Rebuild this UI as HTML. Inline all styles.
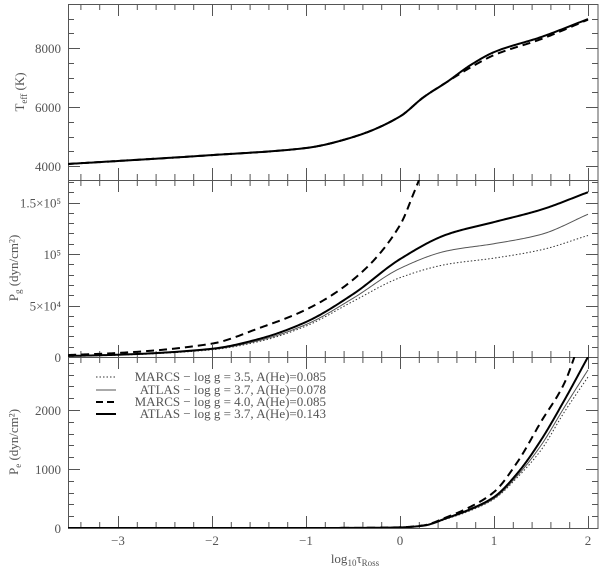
<!DOCTYPE html>
<html><head><meta charset="utf-8"><style>
html,body{margin:0;padding:0;background:#fff;}
svg{display:block;font-family:"Liberation Serif",serif;}
</style></head><body>
<svg id="chart" width="600" height="569" viewBox="0 0 600 569">
<defs><clipPath id="c1"><rect x="68" y="4" width="530" height="176"/></clipPath>
<clipPath id="c2"><rect x="68" y="180" width="530" height="177"/></clipPath>
<clipPath id="c3"><rect x="68" y="357" width="530" height="171"/></clipPath></defs>
<g id="axes"></g>
<g id="marks"></g>
<g font-size="13" fill="#555">
 <line x1="96" y1="377" x2="116" y2="377" stroke="#333" stroke-width="1" stroke-dasharray="1.5,2"/>
 <text x="326" y="381" text-anchor="end">MARCS − log g = 3.5, A(He)=0.085</text>
 <line x1="96" y1="390" x2="116" y2="390" stroke="#555" stroke-width="1"/>
 <text x="326" y="394" text-anchor="end">ATLAS − log g = 3.7, A(He)=0.078</text>
 <line x1="96" y1="402" x2="116" y2="402" stroke="#000" stroke-width="2" stroke-dasharray="7,4"/>
 <text x="326" y="406" text-anchor="end">MARCS − log g = 4.0, A(He)=0.085</text>
 <line x1="96" y1="414" x2="116" y2="414" stroke="#000" stroke-width="2"/>
 <text x="326" y="418" text-anchor="end">ATLAS − log g = 3.7, A(He)=0.143</text>
</g>
<g fill="#555" font-size="13">
 <text transform="translate(24,92) rotate(-90)" text-anchor="middle">T<tspan font-size="9" dy="3">eff</tspan><tspan dy="-3"> (K)</tspan></text>
 <text transform="translate(18,268) rotate(-90)" text-anchor="middle">P<tspan font-size="9" dy="3">g</tspan><tspan dy="-3"> (dyn/cm²)</tspan></text>
 <text transform="translate(18,442) rotate(-90)" text-anchor="middle">P<tspan font-size="9" dy="3">e</tspan><tspan dy="-3"> (dyn/cm²)</tspan></text>
 <text x="355" y="563" text-anchor="middle">log<tspan font-size="9" dy="3">10</tspan><tspan dy="-3">τ</tspan><tspan font-size="9" dy="3">Ross</tspan></text>
</g>
</svg>
<script>
const xTicks=[-3,-2,-1,0,1,2];
const teffTicks=[4000,6000,8000];
const pgTicks=[0,50000,100000,150000];
const pgTickLabels=['0','5×10⁴','10⁵','1.5×10⁵'];
const peTicks=[0,1000,2000];

const tauT=[-3.53,-3,-2,-1,-0.5,0,0.25,0.5,0.75,1,1.5,2];
const teffSolid=[4070,4170,4370,4610,4980,5680,6330,6850,7420,7860,8370,8980];
const teffDashed=[4070,4170,4370,4610,4980,5680,6330,6850,7340,7760,8300,8960];

const tauPgA=[-3.53,-3,-2,-1.5,-1,-0.5,0,0.5,1,1.5,2.0];
const pgAtlas143=[1000,2200,8000,17500,34000,61000,95000,119000,131000,143000,160000];
const pgAtlas078=[900,2000,7400,16000,31500,57000,86000,103000,110000,119000,138600];
const pgMarcs35=[800,1800,7000,15000,30000,54000,77000,90000,96000,104000,118000];
const tauPgM=[-3.53,-3,-2,-1.5,-1,-0.5,0,0.15,0.28];
const pgMarcs40=[1900,3900,13000,28000,46000,75000,128000,160000,190000];

const tauPe=[-3.53,-1,-0.5,0,0.25,0.5,0.75,1,1.25,1.5,1.75,2.0];
const peAtlas143=[0,0,2,10,40,170,320,525,930,1490,2170,2900];
const peAtlas078=[0,0,2,10,38,160,305,500,890,1400,2050,2680];
const peMarcs35=[0,0,2,10,36,155,295,490,860,1320,1970,2560];
const tauPe40=[-3.53,-1,-0.5,0,0.25,0.5,0.75,1,1.25,1.5,1.75,1.9];
const peMarcs40=[0,0,2,12,45,185,360,610,1120,1800,2460,3100];

const X=v=>400+v*94;
const Y1=v=>48+(8000-v)*59/2000;
const Y2=v=>357-v*51.5/50000;
const Y3=v=>528-v*59/1000;
const NS='http://www.w3.org/2000/svg';
const axes=document.getElementById('axes'),marks=document.getElementById('marks');
function mk(tag,attrs,parent){const e=document.createElementNS(NS,tag);for(const k in attrs)e.setAttribute(k,attrs[k]);parent.appendChild(e);return e;}
function path(xs,ys,fx,fy){
 const n=xs.length,d=[],m=new Array(n);
 for(let i=0;i<n-1;i++)d.push((ys[i+1]-ys[i])/(xs[i+1]-xs[i]));
 m[0]=d[0];m[n-1]=d[n-2];
 for(let i=1;i<n-1;i++){if(d[i-1]*d[i]<=0)m[i]=0;else{const w1=2*(xs[i+1]-xs[i])+(xs[i]-xs[i-1]),w2=(xs[i+1]-xs[i])+2*(xs[i]-xs[i-1]);m[i]=(w1+w2)/(w1/d[i-1]+w2/d[i]);}}
 let s='';
 for(let i=0;i<n-1;i++){const h=xs[i+1]-xs[i];const N=30;
  for(let k=(i?1:0);k<=N;k++){const t=k/N,t2=t*t,t3=t2*t;
   const y=(2*t3-3*t2+1)*ys[i]+(t3-2*t2+t)*h*m[i]+(-2*t3+3*t2)*ys[i+1]+(t3-t2)*h*m[i+1];
   const x=xs[i]+t*h;s+=(s?' L':'M')+fx(x).toFixed(2)+','+fy(y).toFixed(2);}}
 return s;}
function series(name,xs,ys,fy,clip,style){const e=mk('path',Object.assign({d:path(xs,ys,X,fy),fill:'none','stroke-linejoin':'round','clip-path':'url(#'+clip+')'},style),marks);
 
 }
const thick={stroke:'#000','stroke-width':2},thin={stroke:'#555','stroke-width':1},dot={stroke:'#333','stroke-width':1,'stroke-dasharray':'1.5,2'},dash={stroke:'#000','stroke-width':2,'stroke-dasharray':'8,5'};
series('teff-marcs-dashed',tauT,teffDashed,Y1,'c1',dash);
series('teff-atlas-solid',tauT,teffSolid,Y1,'c1',thick);
series('pg-marcs-35',tauPgA,pgMarcs35,Y2,'c2',dot);
series('pg-atlas-078',tauPgA,pgAtlas078,Y2,'c2',thin);
series('pg-marcs-40',tauPgM,pgMarcs40,Y2,'c2',dash);
series('pg-atlas-143',tauPgA,pgAtlas143,Y2,'c2',thick);
series('pe-marcs-35',tauPe,peMarcs35,Y3,'c3',dot);
series('pe-atlas-078',tauPe,peAtlas078,Y3,'c3',thin);
series('pe-marcs-40',tauPe40,peMarcs40,Y3,'c3',dash);
series('pe-atlas-143',tauPe,peAtlas143,Y3,'c3',thick);

const panels=[[4,180],[180,357],[357,528]];
const st={stroke:'#555','stroke-width':1};
panels.forEach((p,pi)=>{
 const r=mk('rect',Object.assign({x:68.5,y:p[0]+0.5,width:529.5,height:p[1]-p[0],fill:'none'},st),axes);
 
 
 for(let v=-3.4;v<=2.1;v+=0.2){const vv=Math.round(v*10)/10;const major=Math.abs(vv-Math.round(vv))<0.01;const L=major?12:6;const x=X(vv)+0.5;
  mk('line',Object.assign({x1:x,x2:x,y1:p[0],y2:p[0]+L},st),axes);mk('line',Object.assign({x1:x,x2:x,y1:p[1],y2:p[1]-L},st),axes);}
});
function yt(fy,from,to,step,majStep,top,bot){for(let v=from;v<=to;v+=step){const y=Math.round(fy(v))+0.5;if(y<top||y>bot)continue;const L=(Math.abs(v/majStep-Math.round(v/majStep))<1e-6)?12:6;
 mk('line',Object.assign({x1:68,x2:68+L,y1:y,y2:y},st),axes);mk('line',Object.assign({x1:598,x2:598-L,y1:y,y2:y},st),axes);}}
yt(Y1,3500,9500,500,2000,5,179);
yt(Y2,0,170000,10000,50000,181,356);
yt(Y3,0,2900,200,1000,358,527);
function lab(txt,x,y,anchor,name){const t=mk('text',{x:x,y:y,'text-anchor':anchor,'font-size':13,fill:'#555'},axes);t.textContent=txt;
 
 }
xTicks.forEach(v=>lab(v<0?'−'+(-v):String(v),X(v),545,'middle','x-tick-label'));
teffTicks.forEach(v=>lab(String(v),61,Y1(v)+5,'end','teff-tick-label'));
pgTicks.forEach((v,i)=>lab(pgTickLabels[i],61,Y2(v)+5,'end','pg-tick-label'));
peTicks.forEach(v=>lab(String(v),61,Y3(v)+5,'end','pe-tick-label'));
</script>
</body></html>
